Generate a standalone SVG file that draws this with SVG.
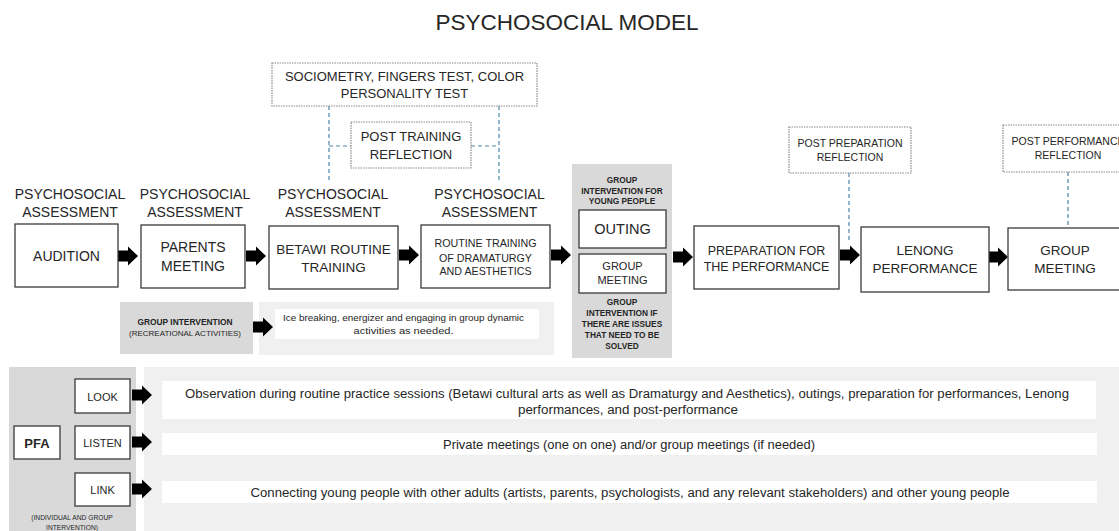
<svg xmlns="http://www.w3.org/2000/svg" xmlns:xlink="http://www.w3.org/1999/xlink" width="1119" height="531" viewBox="0 0 1119 531">
<style>
text{font-family:"Liberation Sans",Arial,sans-serif;fill:#262626;text-anchor:middle}
.box{fill:#fff;stroke:#3a3a3a;stroke-width:1.3}
.dot{fill:#fff;stroke:#8a8a8a;stroke-width:1.2;stroke-dasharray:1.5 1}
.blue{stroke:#4a86a8;stroke-width:1.2;stroke-dasharray:4 3;fill:none}
.dk{fill:#d9d9d9}
.lt{fill:#f0f0f0}
.bar{fill:#fff}
.b{font-weight:bold}
</style>
<defs>
<path id="arr" d="M0,-5.5 H10 V-9.5 L20,0 L10,9.5 V5.5 H0 Z" fill="#000"/>
</defs>
<rect width="1119" height="531" fill="#fff"/>
<text x="567" y="30" font-size="22.5">PSYCHOSOCIAL MODEL</text>

<g id="backgrounds">
<rect class="dk" x="572" y="164" width="100" height="194"/>
<rect class="dk" x="120" y="302" width="133" height="52"/>
<rect class="lt" x="259" y="302" width="295" height="53"/>
<rect class="dk" x="9" y="367" width="127" height="164"/>
<rect class="lt" x="144" y="367" width="975" height="164"/>
</g>

<g id="connectors">
<path class="blue" d="M329,106 V183 M499,106 V183 M329,146 H351 M471,146 H499 M849,173 V242 M1068,172 V228"/>
<use xlink:href="#arr" x="118" y="256"/>
<use xlink:href="#arr" x="246" y="256"/>
<use xlink:href="#arr" x="399" y="255"/>
<use xlink:href="#arr" x="551" y="255"/>
<use xlink:href="#arr" x="673" y="257"/>
<use xlink:href="#arr" x="840" y="255"/>
<use xlink:href="#arr" x="988" y="257"/>
<use xlink:href="#arr" x="253" y="327"/>
<use xlink:href="#arr" x="132" y="395"/>
<use xlink:href="#arr" x="132" y="442"/>
<use xlink:href="#arr" x="132" y="489"/>
</g>

<g id="sociometry">
<rect class="dot" x="272" y="63" width="265" height="43"/>
<text x="404.5" y="80.5" font-size="13">SOCIOMETRY, FINGERS TEST, COLOR</text>
<text x="404.5" y="97.5" font-size="13">PERSONALITY TEST</text>
</g>
<g id="post-training">
<rect class="dot" x="351" y="122" width="120" height="46"/>
<text x="411" y="141" font-size="13">POST TRAINING</text>
<text x="411" y="159" font-size="13">REFLECTION</text>
</g>
<g id="post-preparation">
<rect class="dot" x="789" y="127" width="122" height="46"/>
<text x="850" y="147" font-size="10.5">POST PREPARATION</text>
<text x="850" y="161" font-size="10.5">REFLECTION</text>
</g>
<g id="post-performance">
<rect class="dot" x="1003" y="125" width="130" height="47"/>
<text x="1068" y="145" font-size="10.5">POST PERFORMANCE</text>
<text x="1068" y="159" font-size="10.5">REFLECTION</text>
</g>

<g id="labels">
<text x="70" y="199" font-size="14">PSYCHOSOCIAL</text>
<text x="70" y="217" font-size="14">ASSESSMENT</text>
<text x="195" y="199" font-size="14">PSYCHOSOCIAL</text>
<text x="195" y="217" font-size="14">ASSESSMENT</text>
<text x="333" y="199" font-size="14">PSYCHOSOCIAL</text>
<text x="333" y="217" font-size="14">ASSESSMENT</text>
<text x="489.5" y="199" font-size="14">PSYCHOSOCIAL</text>
<text x="489.5" y="217" font-size="14">ASSESSMENT</text>
</g>

<g id="audition">
<rect class="box" x="15" y="224" width="103" height="63"/>
<text x="66.5" y="261" font-size="14">AUDITION</text>
</g>
<g id="parents-meeting">
<rect class="box" x="141" y="225" width="104" height="63"/>
<text x="193" y="252" font-size="14">PARENTS</text>
<text x="193" y="271" font-size="14">MEETING</text>
</g>
<g id="betawi">
<rect class="box" x="269" y="226" width="129" height="63"/>
<text x="333.5" y="254" font-size="13.5">BETAWI ROUTINE</text>
<text x="333.5" y="272" font-size="13.5">TRAINING</text>
</g>
<g id="dramaturgy">
<rect class="box" x="421" y="225" width="129" height="63"/>
<text x="485.5" y="247" font-size="10.7">ROUTINE TRAINING</text>
<text x="485.5" y="262" font-size="10.7">OF DRAMATURGY</text>
<text x="485.5" y="275" font-size="10.7">AND AESTHETICS</text>
</g>
<g id="group-young">
<text class="b" x="622" y="182.5" font-size="8.3">GROUP</text>
<text class="b" x="622" y="193.5" font-size="8.3">INTERVENTION FOR</text>
<text class="b" x="622" y="204" font-size="8.3">YOUNG PEOPLE</text>
<text class="b" x="622" y="305" font-size="8.3">GROUP</text>
<text class="b" x="622" y="316" font-size="8.3">INTERVENTION IF</text>
<text class="b" x="622" y="327" font-size="8.3">THERE ARE ISSUES</text>
<text class="b" x="622" y="338" font-size="8.3">THAT NEED TO BE</text>
<text class="b" x="622" y="349" font-size="8.3">SOLVED</text>
</g>
<g id="outing">
<rect class="box" x="579" y="210" width="87" height="38"/>
<text x="622.5" y="234" font-size="14.5">OUTING</text>
</g>
<g id="group-meeting-small">
<rect class="box" x="579" y="254" width="87" height="39"/>
<text x="622.5" y="270" font-size="11">GROUP</text>
<text x="622.5" y="284" font-size="11">MEETING</text>
</g>
<g id="preparation">
<rect class="box" x="694" y="226" width="145" height="63"/>
<text x="766.5" y="254.5" font-size="12.5">PREPARATION FOR</text>
<text x="766.5" y="270.5" font-size="12.5">THE PERFORMANCE</text>
</g>
<g id="lenong">
<rect class="box" x="861" y="227" width="128" height="65"/>
<text x="925" y="255" font-size="13.5">LENONG</text>
<text x="925" y="273" font-size="13.5">PERFORMANCE</text>
</g>
<g id="group-meeting">
<rect class="box" x="1008" y="228" width="125" height="62"/>
<text x="1065" y="255" font-size="13.5">GROUP</text>
<text x="1065" y="273" font-size="13.5">MEETING</text>
</g>

<g id="recreational">
<text class="b" x="185" y="325" font-size="8.4">GROUP INTERVENTION</text>
<text x="185" y="336" font-size="8">(RECREATIONAL ACTIVITIES)</text>
</g>
<g id="ice-breaking">
<rect class="bar" x="275" y="309" width="264" height="30"/>
<text x="403.5" y="320.5" font-size="9.5" textLength="241" lengthAdjust="spacingAndGlyphs">Ice breaking, energizer and engaging in group dynamic</text>
<text x="403.5" y="334" font-size="9.5" textLength="100" lengthAdjust="spacingAndGlyphs">activities as needed.</text>
</g>

<g id="pfa">
<rect class="box" x="14" y="426" width="46" height="33"/>
<text class="b" x="37" y="447.5" font-size="13">PFA</text>
</g>
<g id="look">
<rect class="box" x="75" y="379" width="55" height="34"/>
<text x="102.5" y="400.5" font-size="11">LOOK</text>
</g>
<g id="listen">
<rect class="box" x="75" y="426" width="55" height="33"/>
<text x="102.5" y="447" font-size="11">LISTEN</text>
</g>
<g id="link">
<rect class="box" x="75" y="473" width="55" height="33"/>
<text x="102.5" y="494" font-size="11">LINK</text>
</g>
<g id="pfa-note">
<text x="72" y="520" font-size="6.7">(INDIVIDUAL AND GROUP</text>
<text x="72" y="530" font-size="6.7">INTERVENTION)</text>
</g>

<g id="look-desc">
<rect class="bar" x="162" y="381" width="934" height="38"/>
<text x="627" y="397.5" font-size="12" textLength="884" lengthAdjust="spacingAndGlyphs">Observation during routine practice sessions (Betawi cultural arts as well as Dramaturgy and Aesthetics), outings, preparation for performances, Lenong</text>
<text x="628" y="413.5" font-size="12" textLength="220" lengthAdjust="spacingAndGlyphs">performances, and post-performance</text>
</g>
<g id="listen-desc">
<rect class="bar" x="162" y="433" width="935" height="22"/>
<text x="629" y="448.5" font-size="12" textLength="372" lengthAdjust="spacingAndGlyphs">Private meetings (one on one) and/or group meetings (if needed)</text>
</g>
<g id="link-desc">
<rect class="bar" x="162" y="481" width="935" height="22"/>
<text x="630" y="496.5" font-size="12" textLength="759" lengthAdjust="spacingAndGlyphs">Connecting young people with other adults (artists, parents, psychologists, and any relevant stakeholders) and other young people</text>
</g>
</svg>
